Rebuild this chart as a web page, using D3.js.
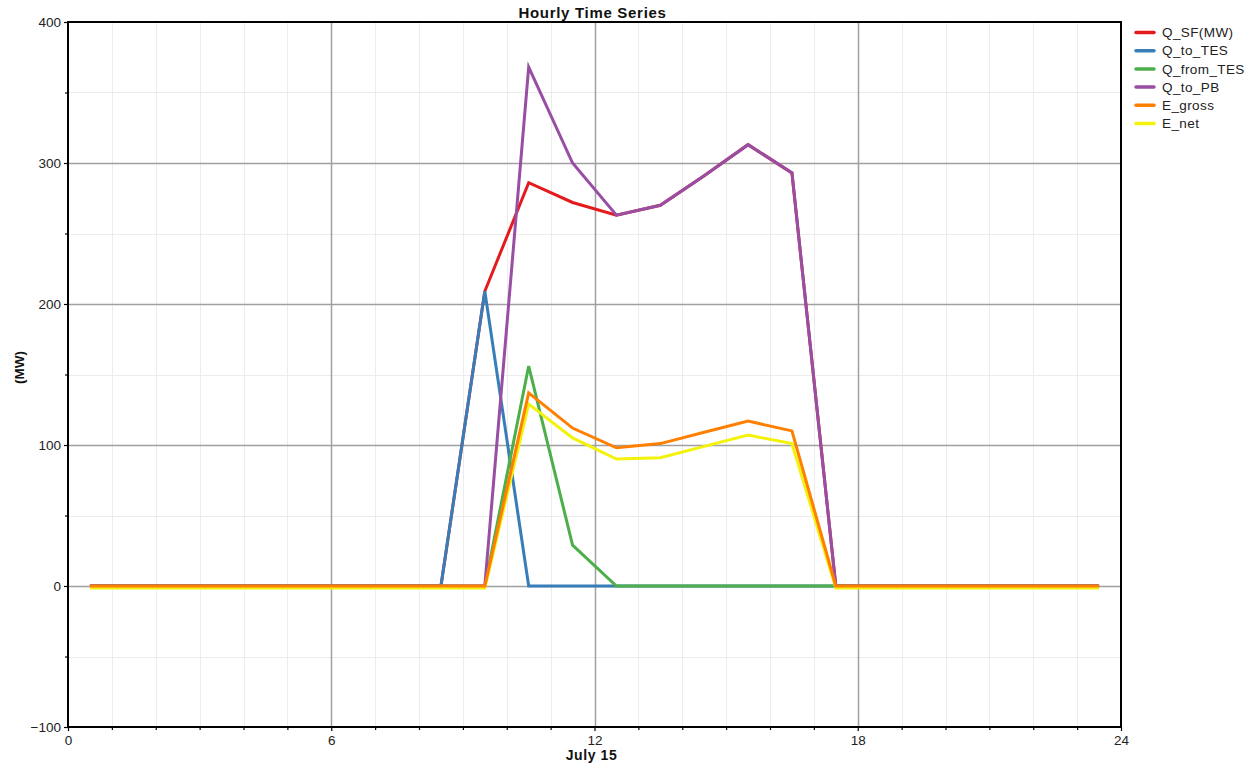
<!DOCTYPE html>
<html>
<head>
<meta charset="utf-8">
<script src="https://cdn.jsdelivr.net/npm/d3@7"></script>
<style>
  html, body { margin: 0; padding: 0; background: #fff; }
  svg { display: block; font-family: "Liberation Sans", Arial, sans-serif; }
</style>
</head>
<body>
<svg id="chart" width="1259" height="769"></svg>
<script>
// Hour-of-day sample positions (mid-hour), July 15
const hours = [0.5, 1.5, 2.5, 3.5, 4.5, 5.5, 6.5, 7.5, 8.5, 9.5, 10.5, 11.5,
               12.5, 13.5, 14.5, 15.5, 16.5, 17.5, 18.5, 19.5, 20.5, 21.5, 22.5, 23.5];

const seriesNames = ["Q_SF(MW)", "Q_to_TES", "Q_from_TES", "Q_to_PB", "E_gross", "E_net"];
const seriesColors = ["#e41a1c", "#377eb8", "#4daf4a", "#984ea3", "#ff7f00", "#f2f20a"];

const qSF      = [0, 0, 0, 0, 0, 0, 0, 0, 0, 209, 286, 272, 263, 270, 291, 313, 293, 0, 0, 0, 0, 0, 0, 0];
const qToTES   = [0, 0, 0, 0, 0, 0, 0, 0, 0, 209, 0, 0, 0, 0, 0, 0, 0, 0, 0, 0, 0, 0, 0, 0];
const qFromTES = [0, 0, 0, 0, 0, 0, 0, 0, 0, 0, 156, 29, 0, 0, 0, 0, 0, 0, 0, 0, 0, 0, 0, 0];
const qToPB    = [0, 0, 0, 0, 0, 0, 0, 0, 0, 0, 368, 300, 263, 270, 291, 313, 293, 0, 0, 0, 0, 0, 0, 0];
const eGross   = [0, 0, 0, 0, 0, 0, 0, 0, 0, 0, 137, 112, 98, 101, 109, 117, 110, 0, 0, 0, 0, 0, 0, 0];
const eNet     = [-1.5, -1.5, -1.5, -1.5, -1.5, -1.5, -1.5, -1.5, -1.5, -1.5, 129, 105, 90, 91, 99, 107, 101,
                  -1.5, -1.5, -1.5, -1.5, -1.5, -1.5, -1.5];

const seriesValues = [qSF, qToTES, qFromTES, qToPB, eGross, eNet];

const xMajorTicks = [0, 6, 12, 18, 24];
const yMajorTicks = [-100, 0, 100, 200, 300, 400];

const chartTitle = "Hourly Time Series";
const xTitle = "July 15";
const yTitle = "(MW)";

// Layout
const svg = d3.select("#chart");
const plot = { left: 68, right: 1121, top: 22, bottom: 727 };

const x = d3.scaleLinear().domain([0, 24]).range([plot.left, plot.right]);
const y = d3.scaleLinear().domain([-100, 400]).range([plot.bottom, plot.top]);

const g = svg.append("g");

// Minor grid (every hour, every 50 MW)
const xMinor = d3.range(0, 25, 1).filter(v => v % 6 !== 0);
const yMinor = d3.range(-100, 401, 50).filter(v => v % 100 !== 0);

g.append("g").selectAll("line").data(xMinor).join("line")
  .attr("x1", d => Math.round(x(d)) + 0.5).attr("x2", d => Math.round(x(d)) + 0.5)
  .attr("y1", plot.top).attr("y2", plot.bottom)
  .attr("stroke", "#ececec").attr("stroke-width", 1);
g.append("g").selectAll("line").data(yMinor).join("line")
  .attr("y1", d => Math.round(y(d)) + 0.5).attr("y2", d => Math.round(y(d)) + 0.5)
  .attr("x1", plot.left).attr("x2", plot.right)
  .attr("stroke", "#ececec").attr("stroke-width", 1);

// Major grid
g.append("g").selectAll("line").data(xMajorTicks.slice(1, -1)).join("line")
  .attr("x1", d => Math.round(x(d)) + 0.5).attr("x2", d => Math.round(x(d)) + 0.5)
  .attr("y1", plot.top).attr("y2", plot.bottom)
  .attr("stroke", "#a0a0a0").attr("stroke-width", 1.5);
g.append("g").selectAll("line").data(yMajorTicks.slice(1, -1)).join("line")
  .attr("y1", d => Math.round(y(d)) + 0.5).attr("y2", d => Math.round(y(d)) + 0.5)
  .attr("x1", plot.left).attr("x2", plot.right)
  .attr("stroke", "#a0a0a0").attr("stroke-width", 1.5);

// Series lines
const line = d3.line().x((d, i) => x(hours[i])).y(d => y(d));
const order = [0, 1, 2, 3, 5, 4];
g.append("g").selectAll("path").data(order).join("path")
  .attr("d", i => line(seriesValues[i]))
  .attr("fill", "none")
  .attr("stroke", i => seriesColors[i])
  .attr("stroke-width", 3)
  .attr("stroke-linejoin", "miter");

// Frame
g.append("rect")
  .attr("x", plot.left).attr("y", plot.top)
  .attr("width", plot.right - plot.left).attr("height", plot.bottom - plot.top)
  .attr("fill", "none").attr("stroke", "#000").attr("stroke-width", 2);

// Axes
const xAxis = d3.axisBottom(x).tickValues(xMajorTicks).tickSize(4).tickPadding(4).tickFormat(d3.format("d"));
svg.append("g").attr("transform", `translate(0,${plot.bottom})`).call(xAxis);
const xMinorAxis = d3.axisBottom(x).tickValues(xMinor).tickSize(3).tickFormat("");
svg.append("g").attr("transform", `translate(0,${plot.bottom})`).call(xMinorAxis);

const yAxis = d3.axisLeft(y).tickValues(yMajorTicks).tickSize(4).tickPadding(3).tickFormat(d3.format("d"));
svg.append("g").attr("transform", `translate(${plot.left},0)`).call(yAxis);
const yMinorAxis = d3.axisLeft(y).tickValues(yMinor).tickSize(3).tickFormat("");
svg.append("g").attr("transform", `translate(${plot.left},0)`).call(yMinorAxis);

svg.selectAll(".domain").remove();
svg.selectAll(".tick line").attr("stroke", "#000").attr("stroke-width", 1.2);
svg.selectAll(".tick text").attr("font-size", 13.5).attr("fill", "#222")
  .attr("font-family", "'Liberation Sans', Arial, sans-serif");

// Titles
svg.append("text")
  .attr("x", (plot.left + plot.right) / 2 - 2).attr("y", 18)
  .attr("text-anchor", "middle").attr("font-size", 15).attr("font-weight", "bold").attr("fill", "#111")
  .attr("letter-spacing", 0.7)
  .text(chartTitle);

svg.append("text")
  .attr("x", (plot.left + plot.right) / 2 - 3).attr("y", 760)
  .attr("text-anchor", "middle").attr("font-size", 14).attr("font-weight", "bold").attr("fill", "#111")
  .attr("letter-spacing", 0.6)
  .text(xTitle);

svg.append("text")
  .attr("transform", `translate(24,${(plot.top + plot.bottom) / 2 - 7}) rotate(-90)`)
  .attr("text-anchor", "middle").attr("font-size", 13.5).attr("font-weight", "bold").attr("fill", "#111")
  .text(yTitle);

// Legend
const legend = svg.append("g").attr("transform", "translate(1135,32.5)");
const rows = legend.selectAll("g").data(seriesNames).join("g")
  .attr("transform", (d, i) => `translate(0,${i * 18.2})`);
rows.append("line")
  .attr("x1", 1).attr("x2", 19).attr("y1", 0).attr("y2", 0)
  .attr("stroke", (d, i) => seriesColors[i]).attr("stroke-width", 3.5).attr("stroke-linecap", "round");
rows.append("text")
  .attr("x", 27).attr("y", 0).attr("dy", "0.35em")
  .attr("font-size", 13.5).attr("fill", "#222").attr("letter-spacing", 0.4)
  .text(d => d);
</script>
</body>
</html>
